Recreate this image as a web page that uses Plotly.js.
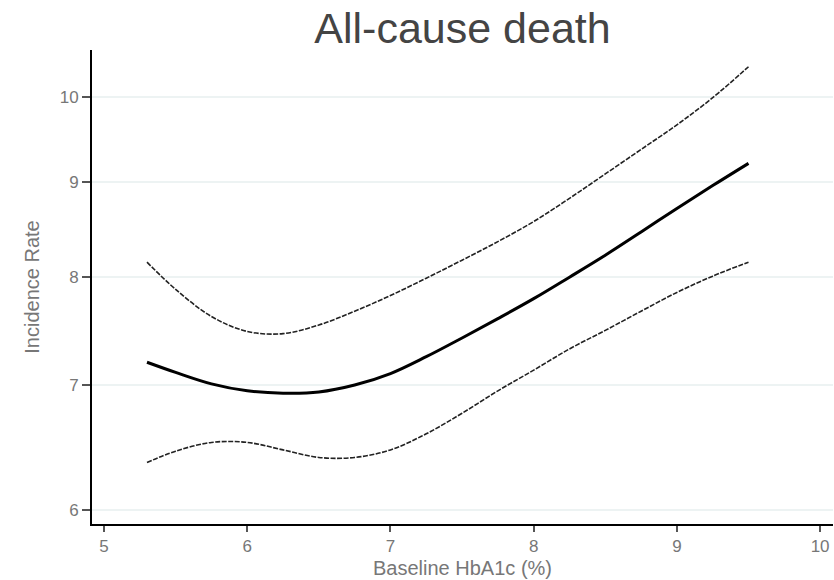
<!DOCTYPE html>
<html>
<head>
<meta charset="utf-8">
<script src="https://cdn.plot.ly/plotly-3.0.1.min.js"></script>
<style>html,body{margin:0;padding:0;background:#fff;}#chart{width:834px;height:580px;}</style>
</head>
<body>
<div id="chart"></div>
<script>
var hba1c = [5.3, 5.5, 5.75, 6.0, 6.25, 6.5, 6.75, 7.0, 7.25, 7.5, 7.75, 8.0, 8.25, 8.5, 8.75, 9.0, 9.25, 9.5];
var rateEstimate = [7.20, 7.11, 7.01, 6.95, 6.93, 6.94, 7.00, 7.10, 7.25, 7.42, 7.60, 7.79, 8.00, 8.22, 8.46, 8.71, 8.96, 9.21];
var rateUpper = [8.15, 7.88, 7.62, 7.48, 7.46, 7.54, 7.67, 7.82, 7.99, 8.17, 8.36, 8.57, 8.82, 9.09, 9.37, 9.66, 9.99, 10.38];
var rateLower = [6.36, 6.45, 6.52, 6.52, 6.46, 6.40, 6.40, 6.46, 6.59, 6.76, 6.95, 7.13, 7.32, 7.49, 7.67, 7.85, 8.01, 8.15];
var xTicks = [5, 6, 7, 8, 9, 10];
var yTicks = [6, 7, 8, 9, 10];
var yTickText = ['6', '7', '8', '9', '10'];

var ciLine = {color: '#222', width: 1.6, dash: '5px,1.5px', shape: 'spline', smoothing: 1};
var traces = [
  {x: hba1c, y: rateUpper, mode: 'lines', line: ciLine, name: 'Upper 95% CI', hoverinfo: 'x+y'},
  {x: hba1c, y: rateLower, mode: 'lines', line: ciLine, name: 'Lower 95% CI', hoverinfo: 'x+y'},
  {x: hba1c, y: rateEstimate, mode: 'lines', line: {color: '#000', width: 3, shape: 'spline', smoothing: 1}, name: 'Incidence rate', hoverinfo: 'x+y'}
];

var tickFont = {family: 'Liberation Sans, Arial, sans-serif', size: 17, color: '#777'};
var layout = {
  width: 834, height: 580,
  margin: {l: 92, r: 1, t: 50, b: 56, pad: 0},
  paper_bgcolor: '#fff', plot_bgcolor: '#fff',
  showlegend: false,
  title: {
    text: 'All-cause death',
    font: {family: 'Liberation Sans, Arial, sans-serif', size: 43, color: '#444'},
    xref: 'paper', x: 0.5, xanchor: 'center',
    yref: 'container', y: 1 - 28 / 580, yanchor: 'middle'
  },
  xaxis: {
    range: [4.916, 10.09], tickvals: xTicks,
    showgrid: false, zeroline: false,
    showline: true, linecolor: '#000', linewidth: 2,
    ticks: 'outside', ticklen: 6, tickwidth: 2, tickcolor: '#555',
    tickfont: tickFont, automargin: false,
    title: {text: 'Baseline HbA1c (%)', font: {family: 'Liberation Sans, Arial, sans-serif', size: 20, color: '#777'}, standoff: 6}
  },
  yaxis: {
    type: 'log', range: [0.7704, 1.0252], tickvals: yTicks, ticktext: yTickText,
    showgrid: true, gridcolor: '#edf3f3', gridwidth: 2, zeroline: false,
    showline: true, linecolor: '#000', linewidth: 2,
    ticks: 'outside', ticklen: 8, tickwidth: 2, tickcolor: '#555',
    tickfont: tickFont, automargin: false,
    title: {text: 'Incidence Rate', font: {family: 'Liberation Sans, Arial, sans-serif', size: 20, color: '#777'}, standoff: 15}
  }
};
Plotly.newPlot('chart', traces, layout, {displayModeBar: false, staticPlot: true});
</script>
</body>
</html>
